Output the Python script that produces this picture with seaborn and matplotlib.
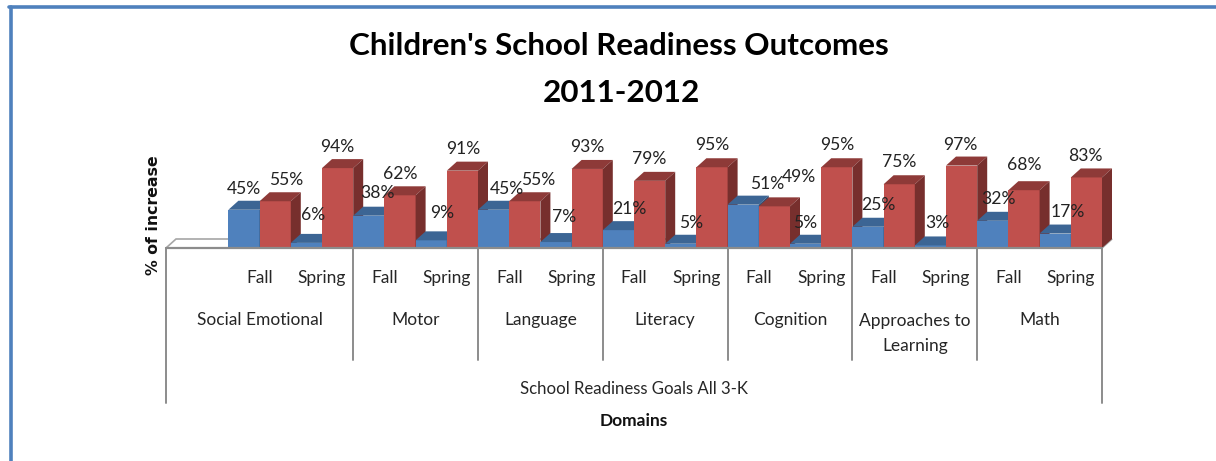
import matplotlib
matplotlib.use("Agg")
import matplotlib.pyplot as plt
from matplotlib.lines import Line2D
from matplotlib.patches import Polygon
import pandas as pd
import seaborn as sns

domains = ["Social Emotional", "Motor", "Language", "Literacy", "Cognition",
           "Approaches to\nLearning", "Math"]
periods = ["Fall", "Spring"]
blue_fall = [45, 38, 45, 21, 51, 25, 32]
red_fall = [55, 62, 55, 79, 49, 75, 68]
blue_spring = [6, 9, 7, 5, 5, 3, 17]
red_spring = [94, 91, 93, 95, 95, 97, 83]

# label nudges in pixels, the original labels were moved by hand
label_dx = [0, 11, 7, 0, 9, 0, 11, 1, 13, 13, 8, 0, 11, 0, 10, 0, 24, 25, 0, 0, 10, 0, 7, -1, 6, 0, 13, -1]
label_dy = [21, 21, 28, 21, 23, 21, 27, 22, 21, 21, 25, 22, 21, 22, 21, 22, 21, 29, 21, 22, 22, 22, 22, 21, 22, 25, 22, 21]

W, H = 1216, 461
LEFT, RIGHT, BASE = 166, 1102, 248
PX_PER_PCT = 0.85
DEPTH_X, DEPTH_Y = 10, 9
FONT = "Lato"

rows = []
for i, d in enumerate(domains):
    rows.append((f"{i}-Fall", "a", blue_fall[i]))
    rows.append((f"{i}-Fall", "b", red_fall[i]))
    rows.append((f"{i}-Spring", "a", blue_spring[i]))
    rows.append((f"{i}-Spring", "b", red_spring[i]))
df = pd.DataFrame(rows, columns=["slot", "series", "value"])
order = ["blank"] + [f"{i}-{p}" for i in range(len(domains)) for p in periods]

sns.set_theme(style="white")
plt.rcParams["font.family"] = [FONT, "DejaVu Sans"]

fig = plt.figure(figsize=(W / 100, H / 100), dpi=100)
ax = fig.add_axes([LEFT / W, 1 - BASE / H, (RIGHT - LEFT) / W, 100 * PX_PER_PCT / H])
sns.barplot(data=df, x="slot", y="value", hue="series", order=order,
            palette=["#4F81BD", "#C0504D"], width=1, gap=0, saturation=1,
            legend=False, ax=ax)
ax.set_xlim(-0.5, len(order) - 0.5)
ax.set_ylim(0, 100)
ax.set_xlabel("")
ax.set_ylabel("")
ax.set_yticks([])
sns.despine(ax=ax, left=True, bottom=True)
ax.patch.set_alpha(0)

slot_px = (RIGHT - LEFT) / len(order)
dx = DEPTH_X / slot_px
dy = DEPTH_Y / PX_PER_PCT
xaxis_tf = ax.get_xaxis_transform()


def below(px):
    # pixels under the baseline, as a fraction of the axes height
    return -px / (100 * PX_PER_PCT)


# floor
x0, x1 = ax.get_xlim()
ax.add_patch(Polygon([(x0, 0), (x0 + dx, dy), (x1 + dx, dy), (x1, 0)], closed=True, facecolor="white",
                     edgecolor="#A6A6A6", linewidth=1.2, clip_on=False, zorder=0.5))

bars = [p for p in ax.patches if isinstance(p, plt.Rectangle) and p.get_height() > 0]
bars = sorted(bars, key=lambda p: p.get_x())
shades = {"#4F81BD": ("#3C6594", "#2F4F75"), "#C0504D": ("#8E3A38", "#772F2D")}
for k, bar in enumerate(bars):
    x, w, h = bar.get_x(), bar.get_width(), bar.get_height()
    is_red = k % 2 == 1
    top_c, side_c = shades["#C0504D"] if is_red else shades["#4F81BD"]
    bar.set_zorder(3 + k)
    bar.set_linewidth(0)
    ax.add_patch(Polygon([(x, h), (x + dx, h + dy), (x + w + dx, h + dy), (x + w, h)], closed=True,
                         facecolor=top_c, linewidth=0, clip_on=False, zorder=3 + k))
    ax.add_patch(Polygon([(x + w, 0), (x + w, h), (x + w + dx, h + dy), (x + w + dx, dy)], closed=True,
                         facecolor=side_c, linewidth=0, clip_on=False, zorder=3 + k))
    ax.annotate(f"{h:.0f}%", xy=(x + w / 2, h), xytext=(label_dx[k], label_dy[k]),
                textcoords="offset pixels", ha="center", va="center", fontsize=12.6,
                color="#222222", zorder=50, annotation_clip=False)

# hierarchical category axis
ax.tick_params(axis="x", length=0, pad=16, labelsize=12.5, labelcolor="#262626")
ax.set_xticks(range(len(order)))
ax.set_xticklabels([""] + periods * len(domains))
ax.plot([x0, x1], [0, 0], color="#8C8C8C", lw=1.6, clip_on=False, zorder=60)
for i in range(len(domains) + 1):
    xpos = 0.5 + 2 * i
    bottom = below(155) if i in (0, len(domains)) else below(112)
    if i == 0:
        xpos = x0
    ax.plot([xpos, xpos], [0, bottom], transform=xaxis_tf, color="#8C8C8C", lw=1.4,
            clip_on=False, zorder=60)
for i, d in enumerate(domains):
    lines = d.count("\n")
    # the first domain also spans the empty slot
    center = 1 if i == 0 else 1.5 + 2 * i
    ax.text(center, below(72 + 13.5 * lines), d, transform=xaxis_tf, ha="center", va="center",
            fontsize=12.5, color="#262626", linespacing=1.75)
ax.text((x0 + x1) / 2, below(141), "School Readiness Goals All 3-K", transform=xaxis_tf,
        ha="center", va="center", fontsize=12.1, color="#262626")
ax.text((x0 + x1) / 2, below(173), "Domains", transform=xaxis_tf,
        ha="center", va="center", fontsize=12.5, fontweight="bold", color="#111111")

fig.text(154 / W, 1 - 215 / H, "% of increase", rotation=90, ha="center", va="center",
         fontsize=11.3, fontweight="bold", family="DejaVu Sans", color="#111111")
fig.text(619 / W, 1 - 46 / H, "Children's School Readiness Outcomes", ha="center", va="center",
         fontsize=22.6, fontweight="bold", color="black")
fig.text(621 / W, 1 - 93 / H, "2011-2012", ha="center", va="center",
         fontsize=22.6, fontweight="bold", color="black")

# slide border
fig.add_artist(Line2D([10.5 / W, 10.5 / W], [0, 1 - 7 / H], color="#4F81BD", lw=2.6))
fig.add_artist(Line2D([9 / W, 1], [1 - 7.5 / H, 1 - 7.5 / H], color="#4F81BD", lw=2.6))

fig.savefig("out.png", dpi=100)
